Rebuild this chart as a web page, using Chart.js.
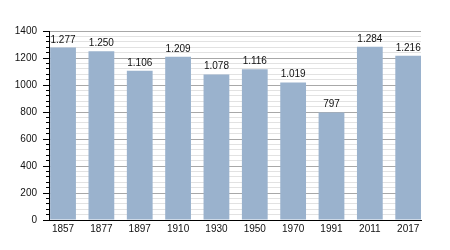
<!DOCTYPE html>
<html>
<head>
<meta charset="utf-8">
<script src="https://cdn.jsdelivr.net/npm/chart.js@4/dist/chart.umd.min.js"></script>
<style>
  html, body { margin: 0; padding: 0; background: #fff; }
  #wrap { width: 450px; height: 250px; }
</style>
</head>
<body>
<div id="wrap"><canvas id="population"></canvas></div>
<script>
const years = ["1857", "1877", "1897", "1910", "1930", "1950", "1970", "1991", "2011", "2017"];
const population = [1277, 1250, 1106, 1209, 1078, 1116, 1019, 797, 1284, 1216];
const yMax = 1400, yStep = 40, yLabelStep = 200;

// 1277 -> "1.277"
function fmt(v) {
    if (v < 1000) return String(v);
    return Math.floor(v / 1000) + "." + String(v % 1000).padStart(3, "0");
}

const valueLabels = {
    id: "valueLabels",
    afterDatasetsDraw(chart) {
        const ctx = chart.ctx;
        ctx.save();
        ctx.font = "10px 'Liberation Sans', Arial, sans-serif";
        ctx.fillStyle = "#111";
        ctx.textAlign = "center";
        ctx.textBaseline = "alphabetic";
        chart.getDatasetMeta(0).data.forEach((bar, i) => {
            ctx.fillText(fmt(population[i]), bar.x, bar.y - 5);
        });
        ctx.restore();
    }
};

let chart = document.querySelector("#population");

new Chart(chart, {
    type: "bar",
    data: {
        datasets: [{
            data: years.map((y, i) => ({x: i, y: population[i]})),
            backgroundColor: "#9ab2cd",
            borderWidth: 0,
            categoryPercentage: 1,
            barPercentage: 0.672
        }]
    },
    options: {
        responsive: true,
        maintainAspectRatio: false,
        animation: false,
        layout: {
            padding: {left: 0, right: 29, top: 31, bottom: 0}
        },
        plugins: {
            legend: {display: false},
            tooltip: {enabled: false}
        },
        scales: {
            x: {
                type: "linear",
                offset: false,
                min: -0.366,
                max: 9.334,
                afterBuildTicks: scale => {
                    scale.ticks = years.map((y, i) => ({value: i}));
                },
                afterFit: scale => { scale.height = 30; },
                grid: {display: false, drawTicks: false, offset: false},
                border: {display: true, color: "#000", width: 1},
                ticks: {
                    autoSkip: false,
                    maxRotation: 0,
                    padding: 3,
                    color: "#111",
                    font: {family: "'Liberation Sans', Arial, sans-serif", size: 10},
                    callback: v => years[v]
                }
            },
            y: {
                min: 0,
                max: yMax,
                afterFit: scale => { scale.width = 49; },
                border: {display: true, color: "#000", width: 1},
                grid: {
                    color: c => c.tick && c.tick.value % yLabelStep === 0 ? "#a8a8a8" : "#e2e2e2",
                    tickColor: "#000",
                    tickLength: 6,
                    tickBorderDash: c => c.tick && c.tick.value % yLabelStep === 0 ? [] : [3, 3],
                    tickBorderDashOffset: 3
                },
                ticks: {
                    stepSize: yStep,
                    autoSkip: false,
                    padding: 6,
                    color: "#111",
                    font: {family: "'Liberation Sans', Arial, sans-serif", size: 10},
                    callback: v => v % yLabelStep === 0 ? v : ""
                }
            }
        }
    },
    plugins: [valueLabels]
});
</script>
</body>
</html>
